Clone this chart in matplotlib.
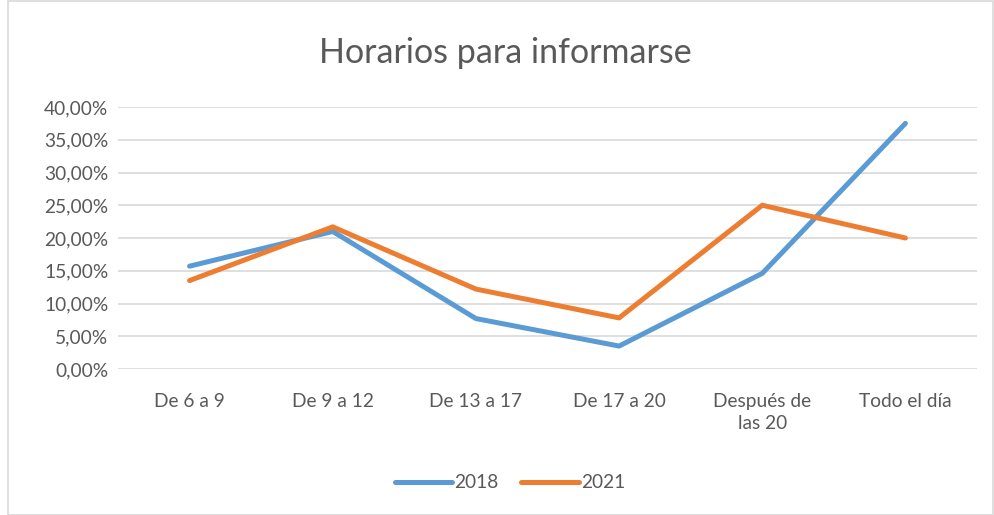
import matplotlib
matplotlib.use("Agg")
import matplotlib.pyplot as plt
from matplotlib.patches import Rectangle
from matplotlib.ticker import FuncFormatter

plt.rcParams['font.family'] = ['Lato', 'DejaVu Sans']

# data
categorias = ['De 6 a 9', 'De 9 a 12', 'De 13 a 17', 'De 17 a 20',
              'Después de\nlas 20', 'Todo el día']
serie_2018 = [0.157, 0.210, 0.077, 0.035, 0.146, 0.375]
serie_2021 = [0.135, 0.217, 0.122, 0.078, 0.250, 0.200]
yticks = [0.0, 0.05, 0.10, 0.15, 0.20, 0.25, 0.30, 0.35, 0.40]

azul = '#5B9BD5'
naranja = '#ED7D31'
gris_txt = '#595959'
gris_grid = '#D9D9D9'

fig = plt.figure(figsize=(9.94, 5.15), dpi=100)
ax = fig.add_axes([118/994, 1 - 369/515, (977 - 118)/994, (369 - 107)/515])

x = list(range(len(categorias)))
ax.plot(x, serie_2018, color=azul, lw=3.6, solid_capstyle='round',
        solid_joinstyle='round', label='2018', zorder=3)
ax.plot(x, serie_2021, color=naranja, lw=3.6, solid_capstyle='round',
        solid_joinstyle='round', label='2021', zorder=3)

ax.set_xlim(-0.5, len(categorias) - 0.5)
ax.set_ylim(0, 0.40)
ax.set_yticks(yticks)
ax.yaxis.set_major_formatter(FuncFormatter(lambda v, p: ('%.2f%%' % (v*100)).replace('.', ',')))
ax.set_xticks(x)
ax.set_xticklabels(categorias, linespacing=1.4)
ax.grid(axis='y', color=gris_grid, lw=1.2, zorder=0)
ax.set_axisbelow(True)
for s in ax.spines.values():
    s.set_visible(False)
ax.tick_params(length=0, colors=gris_txt, labelsize=13.8)
ax.tick_params(axis='x', pad=17)
ax.tick_params(axis='y', pad=7)
for lbl in ax.get_xticklabels():
    lbl.set_verticalalignment('top')

fig.text(0.508, 1 - 53/515, 'Horarios para informarse', ha='center', va='center',
         fontsize=24.5, color=gris_txt)

leg = fig.legend(loc='center', bbox_to_anchor=(0.513, 1 - 483/515), ncol=2,
                 frameon=False, fontsize=13.8, handlelength=3.0, columnspacing=1.2,
                 handletextpad=0.1)
for t in leg.get_texts():
    t.set_color(gris_txt)

# chart frame
fig.patches.append(Rectangle((8/994, 0), 1 - 9/994, 1 - 1/515, transform=fig.transFigure,
                             fill=False, edgecolor=gris_grid, lw=1.2))

fig.savefig('out.png', dpi=100)
